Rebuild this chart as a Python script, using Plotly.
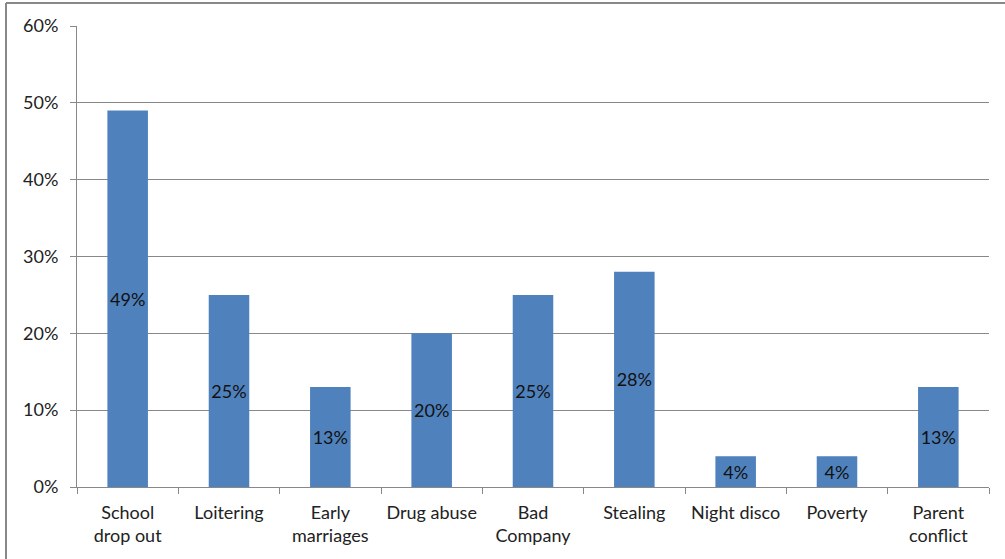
import plotly.graph_objects as go

categories = ["School<br>drop out", "Loitering", "Early<br>marriages", "Drug abuse",
              "Bad<br>Company", "Stealing", "Night disco", "Poverty", "Parent<br>conflict"]
values = [49, 25, 13, 20, 25, 28, 4, 4, 13]
labels = [f"{v}%" for v in values]
y_ticks = [0, 10, 20, 30, 40, 50, 60]
y_ticktext = [f"{t}%" for t in y_ticks]

W, H = 1005, 559
L, R, T, B = 77, 16, 26, 72
pw, ph = W - L - R, H - T - B

font_family = "Lato, 'Open Sans', sans-serif"

fig = go.Figure(go.Bar(
    x=categories, y=values, text=labels,
    textposition="inside", insidetextanchor="middle", constraintext="none",
    textangle=0,
    textfont=dict(family=font_family, size=18, color="#111111"),
    marker=dict(color="#4F81BD", line=dict(width=0)),
    width=0.4,
))

fig.update_layout(
    width=W, height=H,
    margin=dict(l=L, r=R, t=T, b=B, pad=0),
    paper_bgcolor="white", plot_bgcolor="white",
    showlegend=False,
    font=dict(family=font_family, size=18, color="#222222"),
    uniformtext=dict(mode=False) if False else None,
    xaxis=dict(
        showline=True, linecolor="#888888", linewidth=1,
        ticks="outside", ticklen=6, tickcolor="#888888",
        showgrid=False, tickson="boundaries",
        tickfont=dict(size=18, color="#222222"),
        ticklabelstandoff=9,
    ),
    yaxis=dict(
        range=[0, 60], tickvals=y_ticks, ticktext=y_ticktext,
        showline=True, linecolor="#888888", linewidth=1,
        ticks="outside", ticklen=6, tickcolor="#888888",
        showgrid=True, gridcolor="#888888", gridwidth=1,
        zeroline=False,
        tickfont=dict(size=18, color="#222222"),
        ticklabelstandoff=8,
    ),
    shapes=[
        dict(type="line", xref="paper", yref="paper",
             x0=(6 - L) / pw, x1=(6 - L) / pw, y0=-(B + 5) / ph, y1=1 + (T - 3) / ph,
             line=dict(color="#888888", width=2)),
        dict(type="line", xref="paper", yref="paper",
             x0=(6 - L) / pw, x1=(W + 5 - L) / pw, y0=1 + (T - 3) / ph, y1=1 + (T - 3) / ph,
             line=dict(color="#888888", width=2)),
    ],
)

fig.write_html("out.html", config={"displayModeBar": False},
               post_script="document.body.style.margin='0';document.body.style.overflow='hidden';")
